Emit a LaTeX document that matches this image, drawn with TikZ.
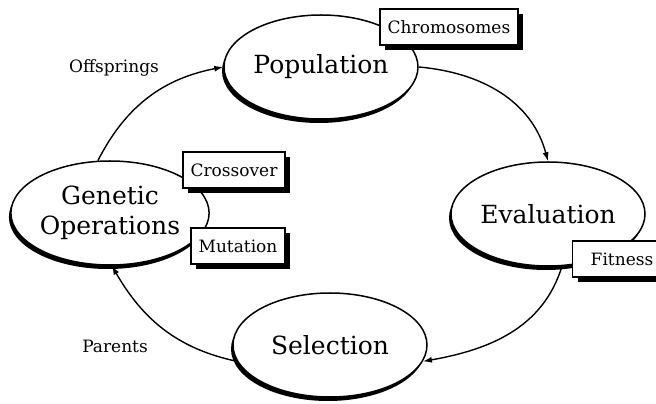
\documentclass[tikz,border=0pt]{standalone}
\usepackage{fontspec}
\setmainfont{DejaVu Serif}
\usepackage{tikz}
\usetikzlibrary{shadows}
\usetikzlibrary{arrows.meta,shapes}
\tikzstyle{stage}=[ellipse,draw,line width=1.5pt,fill=white,minimum width=194pt,minimum height=104pt,inner sep=0pt,align=center,font=\fontsize{25}{30}\selectfont,general shadow={fill=black,shadow xshift=-2pt,shadow yshift=-4pt}]
\tikzstyle{tag}=[rectangle,draw,line width=1.4pt,fill=white,minimum height=36pt,inner sep=0pt,font=\fontsize{17}{20}\selectfont,general shadow={fill=black,shadow xshift=5pt,shadow yshift=-5pt}]
\tikzstyle{edge} = [draw,line width=1.4pt,->,>={Latex[length=9pt,width=6pt]}]
\tikzstyle{flow} = [font=\fontsize{17}{20}\selectfont]

\begin{document}
\begin{tikzpicture}[x=1pt,y=1pt]
    \useasboundingbox (0,0) rectangle (656,404);

    \foreach \pos/\name/\txt in {{(321,337)/pop/Population}, {(548,190)/eval/Evaluation}, {(330,59)/sel/Selection}, {(110,191)/go/Genetic\\Operations}}
        \node[stage] (\name) at \pos {\txt};

    \foreach \pos/\name/\boxw/\txt in {{(449,377)/chrom/138/Chromosomes}, {(234,234)/cross/102/Crossover}, {(238,158)/mut/94/Mutation}, {(622,145)/fit/99/Fitness}}
        \node[tag,minimum width=\boxw pt] (\name) at \pos {\txt};

    \node[flow] (offs) at (114,336) {Offsprings};
    \node[flow] (par) at (115,58) {Parents};

    \foreach \source/\dest/\o/\i in {go.103/pop.west/63/191, pop.east/eval.north/-5/105, eval.-75/sel.-10/-107/10, sel.190/go.-88/168/-60}
        \path[edge] (\source) to[out=\o,in=\i] (\dest);

\end{tikzpicture}
\end{document}
